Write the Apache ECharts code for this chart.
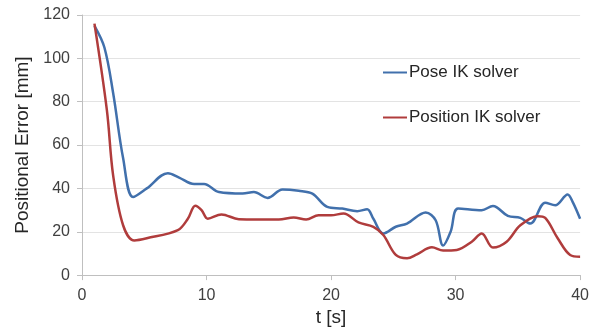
<!DOCTYPE html>
<html><head><meta charset="utf-8">
<script src="https://cdn.jsdelivr.net/npm/echarts@6/dist/echarts.min.js"></script>
<style>html,body{margin:0;padding:0;background:#fff}#c{width:592px;height:332px}</style>
</head><body><div id="c"></div>
<script>
const poseT = [1, 1.8, 2.5, 3.3, 4.1, 5.2, 6.9, 7.8, 9.0, 9.8, 11.0, 12.9, 13.8, 14.9, 16.1, 17.4, 18.5, 19.7, 20.9, 22.1, 22.9, 23.4, 24.2, 25.2, 26.1, 27.6, 28.4, 29.0, 29.6, 30.2, 32.1, 33.0, 34.2, 35.2, 36.0, 37.2, 38.0, 39.0, 39.4, 40];
const poseErr = [115, 105, 84, 54, 36, 40, 47, 45, 42, 42, 38.3, 37.6, 38.3, 35.6, 39.5, 38.9, 37.6, 31.5, 30.7, 29.5, 30.4, 26, 19.2, 22.3, 23.8, 28.9, 25.3, 13.6, 20, 30.7, 29.9, 31.9, 27.3, 26.4, 23.8, 33.4, 32.2, 37.2, 33.8, 26];
const positionT = [1, 2.0, 2.5, 3.3, 4.2, 5.2, 7.7, 8.5, 9.1, 9.6, 10.1, 11.2, 12.6, 15.8, 17.0, 18.0, 19.0, 20.0, 21.0, 22.2, 23.4, 24.2, 25.2, 26.1, 26.9, 28.1, 29.0, 30.1, 31.3, 32.1, 33.0, 34.1, 35.2, 36.6, 37.2, 38.2, 39.2, 40];
const positionErr = [116, 76, 46, 23, 16, 17, 20.8, 26, 32, 30, 26, 28, 25.8, 25.6, 26.6, 25.6, 27.6, 27.6, 28.4, 24.3, 22.3, 18.5, 9.3, 7.8, 9.6, 12.8, 11.3, 11.6, 15.4, 19.2, 12.7, 15.4, 23, 27.2, 26.4, 17, 9.3, 8.5];
const seriesNames = ['Pose IK solver', 'Position IK solver'];
const xTicks = [0, 10, 20, 30, 40];
const yTicks = [0, 20, 40, 60, 80, 100, 120];

const zip = (a, b) => a.map((t, i) => [t, b[i]]);
const font = 'Liberation Sans, Arial, sans-serif';
const chart = echarts.init(document.getElementById('c'));
chart.setOption({
  animation: false,
  grid: { left: 82, right: 10, top: 15, bottom: 55 },
  legend: {
    orient: 'vertical', left: 378, top: 59, itemGap: 28,
    itemWidth: 24, itemHeight: 2, icon: 'rect',
    textStyle: { fontFamily: font, fontSize: 17, color: '#262626', padding: [0,0,0,-3] },
    data: seriesNames
  },
  xAxis: {
    type: 'value', min: xTicks[0], max: xTicks[xTicks.length-1], interval: 10,
    name: 't [s]', nameLocation: 'middle', nameGap: 32,
    nameTextStyle: { fontFamily: font, fontSize: 19, color: '#262626' },
    axisLine: { lineStyle: { color: '#bfbfbf' } },
    axisTick: { show: true, length: 5, lineStyle: { color: '#bfbfbf' } },
    axisLabel: { fontFamily: font, fontSize: 16, color: '#404040', margin: 12 },
    splitLine: { show: false }
  },
  yAxis: {
    type: 'value', min: yTicks[0], max: yTicks[yTicks.length-1], interval: 20,
    name: 'Positional Error [mm]', nameLocation: 'middle', nameGap: 48,
    nameTextStyle: { fontFamily: font, fontSize: 19, color: '#262626' },
    axisLine: { show: true, lineStyle: { color: '#bfbfbf' } },
    axisTick: { show: true, length: 5, lineStyle: { color: '#bfbfbf' } },
    axisLabel: { fontFamily: font, fontSize: 16, color: '#404040', margin: 12 },
    splitLine: { show: true, lineStyle: { color: '#e3e3e3' } }
  },
  series: [
    { name: seriesNames[0], type: 'line', data: zip(poseT, poseErr), smooth: 0.35,
      showSymbol: false, symbol: 'none', lineStyle: { color: '#4170ac', width: 2.5 }, itemStyle: { color: '#4170ac' } },
    { name: seriesNames[1], type: 'line', data: zip(positionT, positionErr), smooth: 0.35,
      showSymbol: false, symbol: 'none', lineStyle: { color: '#b03c3c', width: 2.5 }, itemStyle: { color: '#b03c3c' } }
  ]
});
</script></body></html>
